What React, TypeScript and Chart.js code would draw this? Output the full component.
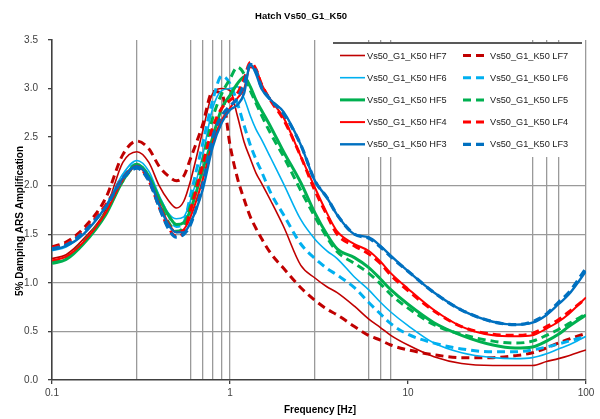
import { useEffect, useRef } from 'react';
import { Chart, registerables } from 'chart.js';

Chart.register(...registerables);

const TITLE = 'Hatch Vs50_G1_K50';
const X_TITLE = 'Frequency [Hz]';
const Y_TITLE = '5% Damping ARS Amplification';

const FREQ = [0.1, 0.12, 0.15, 0.2, 0.25, 0.3, 0.35, 0.4, 0.45, 0.5, 0.55, 0.6, 0.7, 0.8, 0.9, 1.0, 1.1, 1.2, 1.3, 1.4, 1.5, 1.7, 2.0, 2.5, 3.0, 3.5, 4.0, 5.0, 6.0, 7.0, 8.0, 10, 14, 20, 30, 40, 50, 60, 70, 80, 100];

const HF7 = [1.25, 1.29, 1.45, 1.75, 2.24, 2.35, 2.24, 2.0, 1.85, 1.77, 1.84, 2.05, 2.55, 2.95, 3.0, 2.98, 2.72, 2.45, 2.28, 2.13, 2.03, 1.84, 1.58, 1.18, 1.05, 0.96, 0.9, 0.76, 0.63, 0.54, 0.46, 0.36, 0.24, 0.17, 0.15, 0.15, 0.15, 0.19, 0.22, 0.25, 0.31];
const LF7 = [1.37, 1.42, 1.56, 1.87, 2.32, 2.46, 2.38, 2.2, 2.1, 2.05, 2.1, 2.28, 2.62, 2.97, 2.95, 2.42, 2.08, 1.86, 1.68, 1.56, 1.46, 1.3, 1.15, 0.95, 0.82, 0.73, 0.67, 0.55, 0.46, 0.41, 0.36, 0.31, 0.26, 0.23, 0.23, 0.25, 0.28, 0.33, 0.38, 0.42, 0.48];
const HF6 = [1.33, 1.37, 1.5, 1.79, 2.12, 2.26, 2.15, 1.9, 1.72, 1.66, 1.68, 1.85, 2.3, 2.8, 2.98, 3.0, 3.02, 2.9, 2.72, 2.58, 2.48, 2.28, 2.02, 1.65, 1.45, 1.33, 1.25, 1.06, 0.93, 0.8, 0.7, 0.56, 0.38, 0.28, 0.23, 0.22, 0.23, 0.27, 0.32, 0.36, 0.45];
const LF6 = [1.35, 1.39, 1.52, 1.79, 2.1, 2.22, 2.1, 1.88, 1.7, 1.58, 1.62, 1.9, 2.42, 2.88, 3.13, 3.05, 2.85, 2.62, 2.42, 2.27, 2.15, 1.92, 1.7, 1.4, 1.25, 1.15, 1.08, 0.95, 0.8, 0.68, 0.58, 0.47, 0.38, 0.32, 0.29, 0.29, 0.31, 0.34, 0.37, 0.4, 0.45];
const HF5 = [1.2, 1.24, 1.4, 1.7, 2.05, 2.22, 2.1, 1.87, 1.7, 1.6, 1.62, 1.75, 2.15, 2.5, 2.8, 2.93, 3.05, 3.12, 3.02, 2.88, 2.78, 2.6, 2.35, 2.03, 1.72, 1.5, 1.35, 1.26, 1.16, 1.04, 0.93, 0.78, 0.59, 0.46, 0.36, 0.33, 0.34, 0.4, 0.47, 0.55, 0.67];
const LF5 = [1.22, 1.26, 1.42, 1.72, 2.05, 2.2, 2.07, 1.83, 1.63, 1.53, 1.58, 1.8, 2.25, 2.7, 2.95, 3.1, 3.22, 3.15, 2.98, 2.85, 2.73, 2.53, 2.3, 1.95, 1.68, 1.47, 1.32, 1.2, 1.1, 0.99, 0.88, 0.74, 0.57, 0.47, 0.4, 0.38, 0.4, 0.46, 0.52, 0.58, 0.68];
const HF4 = [1.23, 1.27, 1.42, 1.72, 2.06, 2.2, 2.07, 1.82, 1.62, 1.52, 1.55, 1.68, 2.05, 2.45, 2.68, 2.8, 2.9, 3.0, 3.22, 3.2, 3.05, 2.88, 2.7, 2.3, 1.98, 1.72, 1.53, 1.4, 1.33, 1.22, 1.1, 0.94, 0.72, 0.55, 0.46, 0.45, 0.46, 0.53, 0.6, 0.68, 0.85];
const LF4 = [1.36, 1.4, 1.53, 1.8, 2.08, 2.2, 2.05, 1.78, 1.57, 1.48, 1.52, 1.75, 2.2, 2.6, 2.8, 2.88, 2.95, 3.1, 3.27, 3.2, 3.05, 2.87, 2.68, 2.3, 1.95, 1.7, 1.5, 1.38, 1.3, 1.2, 1.08, 0.92, 0.71, 0.55, 0.47, 0.46, 0.48, 0.55, 0.62, 0.7, 0.84];
const HF3 = [1.34, 1.38, 1.5, 1.78, 2.08, 2.2, 2.08, 1.8, 1.6, 1.52, 1.52, 1.62, 1.95, 2.4, 2.65, 2.78, 2.83, 2.95, 3.25, 3.15, 3.0, 2.88, 2.76, 2.42, 2.05, 1.88, 1.7, 1.5, 1.47, 1.38, 1.28, 1.12, 0.9, 0.72, 0.6, 0.57, 0.59, 0.67, 0.78, 0.88, 1.12];
const LF3 = [1.35, 1.39, 1.52, 1.78, 2.07, 2.18, 2.05, 1.78, 1.56, 1.47, 1.5, 1.6, 2.0, 2.5, 2.72, 2.82, 2.9, 3.05, 3.25, 3.18, 3.02, 2.88, 2.74, 2.42, 2.05, 1.88, 1.7, 1.5, 1.46, 1.37, 1.27, 1.12, 0.9, 0.72, 0.6, 0.57, 0.6, 0.68, 0.8, 0.9, 1.15];

const X_DECADES = [0.1, 1, 10, 100];
const X_MARKERS = [0.3, 0.6, 0.7, 0.8, 0.9, 1, 3, 6, 7, 8, 50, 60, 70, 100];
const Y_GRID = [0.5, 1.0, 1.5, 2.0];

const FONT = "'Liberation Sans', Arial, sans-serif";

const SERIES = [
  { label: 'Vs50_G1_K50 HF7', data: HF7, color: '#C00000', width: 1.6, dash: [] as number[] },
  { label: 'Vs50_G1_K50 LF7', data: LF7, color: '#C00000', width: 3, dash: [8, 5] },
  { label: 'Vs50_G1_K50 HF6', data: HF6, color: '#00B0F0', width: 1.6, dash: [] as number[] },
  { label: 'Vs50_G1_K50 LF6', data: LF6, color: '#00B0F0', width: 3, dash: [8, 5] },
  { label: 'Vs50_G1_K50 HF5', data: HF5, color: '#00B050', width: 3, dash: [] as number[] },
  { label: 'Vs50_G1_K50 LF5', data: LF5, color: '#00B050', width: 3, dash: [8, 5] },
  { label: 'Vs50_G1_K50 HF4', data: HF4, color: '#FF0000', width: 2, dash: [] as number[] },
  { label: 'Vs50_G1_K50 LF4', data: LF4, color: '#FF0000', width: 3, dash: [8, 5] },
  { label: 'Vs50_G1_K50 HF3', data: HF3, color: '#0070C0', width: 2.4, dash: [] as number[] },
  { label: 'Vs50_G1_K50 LF3', data: LF3, color: '#0070C0', width: 3.2, dash: [8, 5] },
];

const overlay = {
  id: 'overlay',
  afterDraw(chart: any) {
    const { ctx, chartArea } = chart;
    const ca = chartArea;
    ctx.save();
    // Legend box
    const bx = ca.left + 281;
    const by = ca.top + 3;
    const bw = 249;
    const bh = 114;
    ctx.fillStyle = '#ffffff';
    ctx.fillRect(bx, by, bw, bh);
    ctx.strokeStyle = '#595959';
    ctx.lineWidth = 2;
    ctx.beginPath();
    ctx.moveTo(bx, by);
    ctx.lineTo(bx + bw, by);
    ctx.stroke();
    ctx.font = `9.2px ${FONT}`;
    ctx.textAlign = 'left';
    ctx.textBaseline = 'middle';
    chart.data.datasets.forEach((ds: any, i: number) => {
      const col = i % 2;
      const row = Math.floor(i / 2);
      const y = by + 12.5 + row * 22.2;
      const x0 = bx + 7 + col * 123;
      const x1 = x0 + (col === 0 ? 25 : 22);
      ctx.save();
      ctx.strokeStyle = ds.borderColor;
      ctx.lineWidth = ds.borderWidth;
      ctx.setLineDash(col === 0 ? [] : [8, 5]);
      ctx.beginPath();
      ctx.moveTo(x0, y);
      ctx.lineTo(x1, y);
      ctx.stroke();
      ctx.restore();
      ctx.fillStyle = '#1a1a1a';
      ctx.fillText(ds.label, x0 + 27, y + 0.5);
    });
    // Titles
    ctx.fillStyle = '#000';
    ctx.font = `bold 9.5px ${FONT}`;
    ctx.textAlign = 'center';
    ctx.textBaseline = 'middle';
    ctx.fillText(TITLE, chart.width / 2 + 1, 16);
    ctx.font = `bold 10px ${FONT}`;
    ctx.fillText(X_TITLE, (ca.left + ca.right) / 2 + 1, ca.bottom + 30);
    ctx.translate(20, (ca.top + ca.bottom) / 2 + 11);
    ctx.rotate(-Math.PI / 2);
    ctx.fillText(Y_TITLE, 0, 0);
    ctx.restore();
  },
};

export default function App() {
  const ref = useRef<HTMLCanvasElement>(null);
  useEffect(() => {
    document.body.style.margin = '0';
    const canvas = ref.current;
    if (!canvas) return;
    const chart = new Chart(canvas, {
      type: 'line',
      data: {
        datasets: SERIES.map((s, i) => ({
          label: s.label,
          data: FREQ.map((f, k) => ({ x: f, y: s.data[k] })),
          borderColor: s.color,
          backgroundColor: s.color,
          borderWidth: s.width,
          borderDash: s.dash,
          pointRadius: 0,
          cubicInterpolationMode: 'monotone' as const,
          fill: false,
          order: SERIES.length - i,
        })),
      },
      options: {
        responsive: false,
        animation: false,
        layout: { padding: { top: 40, right: 14, left: 0, bottom: 0 } },
        plugins: {
          legend: { display: false },
          title: { display: false },
          tooltip: { enabled: false },
        },
        scales: {
          x: {
            type: 'logarithmic',
            min: 0.1,
            max: 100,
            afterBuildTicks: (scale: any) => {
              scale.ticks = Array.from(new Set([...X_DECADES, ...X_MARKERS]))
                .sort((a, b) => a - b)
                .map((v) => ({ value: v }));
            },
            afterFit: (scale: any) => {
              scale.height = 39;
            },
            ticks: {
              autoSkip: false,
              maxRotation: 0,
              padding: 3,
              color: '#404040',
              font: { family: FONT, size: 10 },
              callback: (v: any) => (X_DECADES.includes(Number(v)) ? String(v) : ''),
            },
            grid: {
              color: (c: any) => (c.tick && X_MARKERS.includes(c.tick.value) ? '#9a9a9a' : 'rgba(0,0,0,0)'),
              lineWidth: 1.3,
              tickLength: 4,
              tickColor: (c: any) => (c.tick && X_DECADES.includes(c.tick.value) ? '#404040' : 'rgba(0,0,0,0)'),
            },
            border: { color: '#404040', width: 1.6 },
          },
          y: {
            min: 0,
            max: 3.5,
            afterFit: (scale: any) => {
              scale.width = 52;
            },
            ticks: {
              stepSize: 0.5,
              padding: 10,
              color: '#404040',
              font: { family: FONT, size: 10 },
              callback: (v: any) => Number(v).toFixed(1),
            },
            grid: {
              color: (c: any) => (c.tick && Y_GRID.includes(c.tick.value) ? '#9a9a9a' : 'rgba(0,0,0,0)'),
              lineWidth: 1.3,
              tickLength: 4,
              tickColor: '#404040',
            },
            border: { color: '#404040', width: 1.6 },
          },
        },
      },
      plugins: [overlay],
    });
    return () => chart.destroy();
  }, []);
  return (
    <div style={{ width: 600, height: 419 }}>
      <canvas ref={ref} width={600} height={419} style={{ display: 'block' }} />
    </div>
  );
}
